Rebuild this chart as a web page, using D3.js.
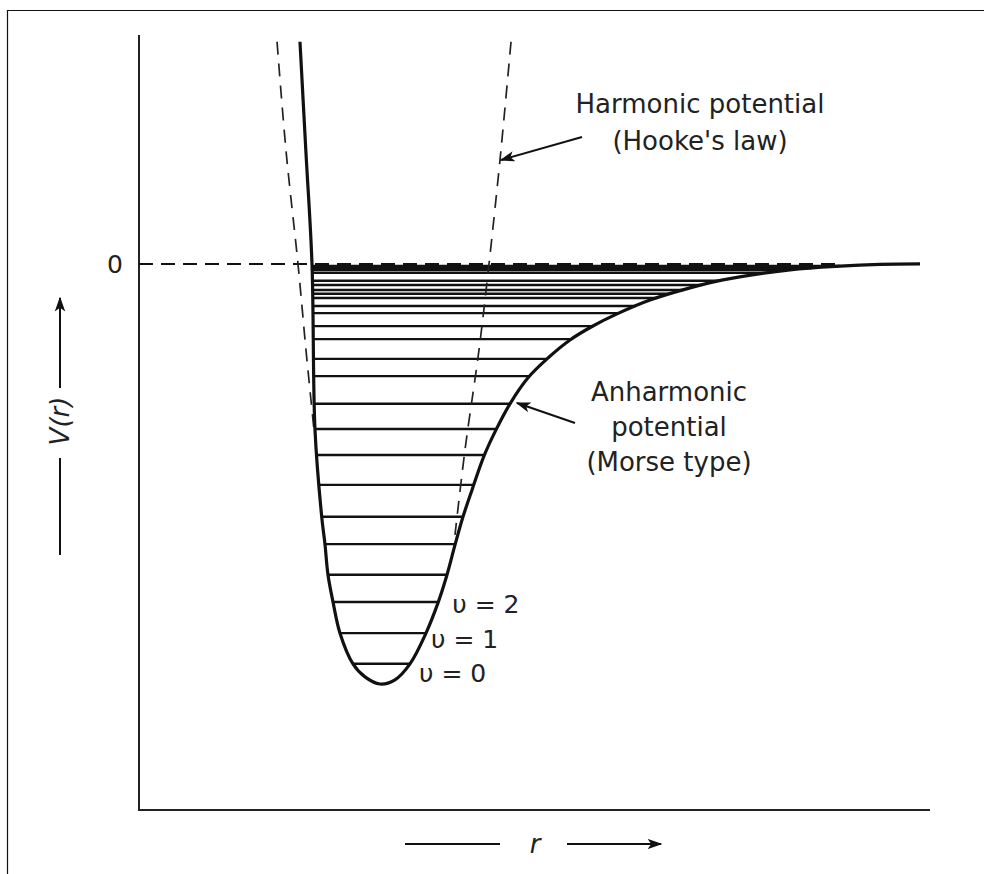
<!DOCTYPE html>
<html>
<head>
<meta charset="utf-8">
<script src="https://cdn.jsdelivr.net/npm/d3@7"></script>
<style>
  html, body { margin: 0; padding: 0; background: #fff; }
  svg { display: block; }
  text { font-family: "DejaVu Sans", sans-serif; fill: #222; }
</style>
</head>
<body>
<svg id="chart" width="984" height="874"></svg>
<script>
// ---- data (r in arbitrary length units, V in units of well depth D) ----
const morseCurve = [
  [2.035, 0.529], [2.111, 0.264], [2.187, 0], [2.225, -0.395], [2.31, -0.602], [2.351, -0.667],
  [2.389, -0.740], [2.453, -0.805], [2.541, -0.879], [2.705, -0.952], [2.857, -0.983],
  [3.047, -1.0], [3.236, -0.990], [3.426, -0.952], [3.628, -0.879], [3.780, -0.807],
  [3.894, -0.740], [3.995, -0.669], [4.096, -0.602], [4.210, -0.538], [4.362, -0.457],
  [4.513, -0.395], [4.690, -0.333], [4.918, -0.271], [5.170, -0.224], [5.449, -0.181],
  [5.727, -0.149], [6.043, -0.119], [6.460, -0.086], [6.966, -0.057], [7.383, -0.038],
  [8.230, -0.014], [8.862, -0.005], [9.368, -0.001], [9.874, 0]
];
const harmonicLeft = [
  [1.745, 0.529], [1.858, 0.271], [2.010, 0], [2.111, -0.205], [2.174, -0.324], [2.212, -0.395]
];
const harmonicRight = [
  [4.703, 0.529], [4.576, 0.271], [4.425, 0], [4.298, -0.205], [4.121, -0.443], [3.995, -0.645]
];
const levelEnergies = [
  -0.952, -0.879, -0.805, -0.740, -0.667, -0.602, -0.526, -0.455, -0.393, -0.333,
  -0.267, -0.226, -0.179, -0.148, -0.117, -0.100, -0.081, -0.071, -0.062, -0.050,
  -0.040, -0.021, -0.014, -0.010, -0.005
];
const levelLabels = ["υ = 0", "υ = 1", "υ = 2"];
const yTickValues = [0];
const yTickLabels = ["0"];
const xDomain = [0, 10];
const yDomain = [-1.3, 0.545];

// ---- layout ----
const svg = d3.select("#chart");
const x = d3.scaleLinear().domain(xDomain).range([139, 930]);
const y = d3.scaleLinear().domain(yDomain).range([810, 35]);

// frame
svg.append("path").attr("d", "M7.5,874 V10.5 H984")
  .attr("fill", "none").attr("stroke", "#111").attr("stroke-width", 1.2);

// arrow marker
const defs = svg.append("defs");
defs.append("marker").attr("id", "ah2").attr("viewBox", "0 0 10 10")
  .attr("refX", 9).attr("refY", 5).attr("markerWidth", 15).attr("markerHeight", 15)
  .attr("markerUnits", "userSpaceOnUse").attr("orient", "auto")
  .append("path").attr("d", "M0,1.5 L10,5 L0,8.5 L2.5,5 Z").attr("fill", "#111");

// axes (no ticks)
svg.append("path")
  .attr("d", `M${x(xDomain[0])},${y(yDomain[1])} V${y(yDomain[0])} H${x(xDomain[1])}`)
  .attr("fill", "none").attr("stroke", "#222").attr("stroke-width", 2);

// y tick label "0"
yTickValues.forEach((v, i) => {
  svg.append("text").attr("x", x(xDomain[0]) - 24).attr("y", y(v))
    .attr("dy", "0.36em").attr("text-anchor", "middle").attr("font-size", 25)
    .text(yTickLabels[i]);
});

// level intersections with Morse branches
const minIdx = d3.minIndex(morseCurve, d => d[1]);
const leftBranch = morseCurve.slice(0, minIdx + 1);
const rightBranch = morseCurve.slice(minIdx);
function crossR(branch, E) {
  for (let i = 0; i < branch.length - 1; i++) {
    const [r0, v0] = branch[i], [r1, v1] = branch[i + 1];
    if ((v0 - E) * (v1 - E) <= 0 && v0 !== v1) {
      return r0 + (E - v0) / (v1 - v0) * (r1 - r0);
    }
  }
  return null;
}
const levels = levelEnergies.map(E => ({ E, rL: crossR(leftBranch, E), rR: crossR(rightBranch, E) }));

svg.append("g").selectAll("line").data(levels).join("line")
  .attr("x1", d => x(d.rL)).attr("x2", d => x(d.rR))
  .attr("y1", d => y(d.E)).attr("y2", d => y(d.E))
  .attr("stroke", "#111").attr("stroke-width", 2.4);

// zero line (dashed)
svg.append("line")
  .attr("x1", x(xDomain[0])).attr("x2", x(crossR(rightBranch, -0.005)))
  .attr("y1", y(0)).attr("y2", y(0))
  .attr("stroke", "#111").attr("stroke-width", 2).attr("stroke-dasharray", "14 8");

// harmonic (dashed)
const line = d3.line().x(d => x(d[0])).y(d => y(d[1])).curve(d3.curveCatmullRom.alpha(0.5));
[harmonicLeft, harmonicRight].forEach(br => {
  svg.append("path").attr("d", line(br)).attr("fill", "none")
    .attr("stroke", "#222").attr("stroke-width", 1.7).attr("stroke-dasharray", "13 9");
});

// Morse curve
svg.append("path").attr("d", line(morseCurve)).attr("fill", "none")
  .attr("stroke", "#111").attr("stroke-width", 3.2).attr("stroke-linejoin", "round");

// level labels
levelLabels.forEach((t, i) => {
  const lv = levels[i];
  const offs = [[9, 18], [5, 15], [14, 11]][i];
  svg.append("text").attr("x", x(lv.rR) + offs[0]).attr("y", y(lv.E) + offs[1])
    .attr("font-size", 25).text(t);
});

// annotations
function multiline(lines, cx, y0, dy) {
  lines.forEach((t, i) => svg.append("text").attr("x", cx).attr("y", y0 + i * dy)
    .attr("text-anchor", "middle").attr("font-size", 26).text(t));
}
multiline(["Harmonic potential", "(Hooke's law)"], 700, 113, 37);
multiline(["Anharmonic", "potential", "(Morse type)"], 669, 401, 35);

svg.append("line").attr("x1", 582).attr("y1", 137).attr("x2", 501).attr("y2", 160)
  .attr("stroke", "#111").attr("stroke-width", 2).attr("marker-end", "url(#ah2)");
svg.append("line").attr("x1", 575).attr("y1", 423).attr("x2", 517).attr("y2", 403)
  .attr("stroke", "#111").attr("stroke-width", 2).attr("marker-end", "url(#ah2)");

// axis titles with arrows
svg.append("line").attr("x1", 60).attr("y1", 555).attr("x2", 60).attr("y2", 458)
  .attr("stroke", "#111").attr("stroke-width", 2);
svg.append("line").attr("x1", 60).attr("y1", 388).attr("x2", 60).attr("y2", 298)
  .attr("stroke", "#111").attr("stroke-width", 2).attr("marker-end", "url(#ah2)");
svg.append("text").attr("transform", "translate(69,421) rotate(-90)")
  .attr("text-anchor", "middle").attr("font-size", 26).attr("font-style", "italic").text("V(r)");

svg.append("line").attr("x1", 405).attr("y1", 844).attr("x2", 500).attr("y2", 844)
  .attr("stroke", "#111").attr("stroke-width", 2);
svg.append("line").attr("x1", 567).attr("y1", 844).attr("x2", 661).attr("y2", 844)
  .attr("stroke", "#111").attr("stroke-width", 2).attr("marker-end", "url(#ah2)");
svg.append("text").attr("x", 535).attr("y", 853).attr("text-anchor", "middle")
  .attr("font-size", 26).attr("font-style", "italic").text("r");
</script>
</body>
</html>
